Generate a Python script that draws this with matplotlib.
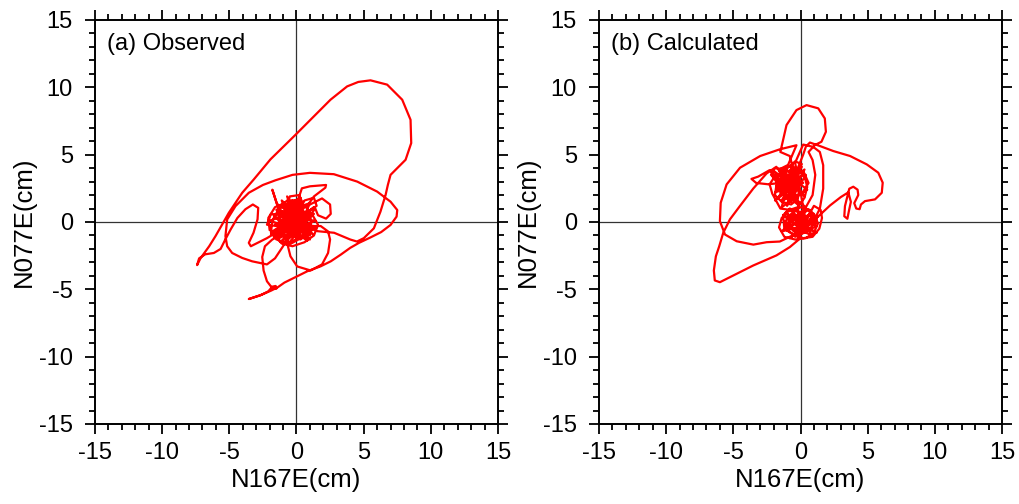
import numpy as np
import matplotlib
matplotlib.use('Agg')
import matplotlib.pyplot as plt
from matplotlib.ticker import MultipleLocator

plt.rcParams['font.family'] = ['Liberation Sans', 'DejaVu Sans']
plt.rcParams['axes.unicode_minus'] = False

# ---- (a) Observed: hodogram (cm) ----
obs_core = [(0.2, 0.1), (-0.4, 0.7), (-1.1, 0.8), (-1.4, 0.2), (-0.9, -0.5), (0.0, -0.6),
            (0.6, -0.1), (0.5, 0.8), (-0.2, 1.3), (-0.8, 1.0), (-1.0, 0.2), (-0.5, -0.9),
            (0.3, -1.3), (0.9, -0.8), (1.1, 0.1), (0.8, 1.0), (0.1, 1.6), (-0.7, 1.6),
            (-1.3, 1.0), (-1.8, 0.1), (-1.9, -0.8), (-1.3, -1.4), (-0.4, -1.6), (0.5, -1.1),
            (0.8, -0.3), (0.3, 0.5), (-0.5, 0.4), (-0.9, -0.3), (-0.4, -0.9), (0.4, -0.5),
            (0.6, 0.4), (0.0, 1.0), (-0.9, 1.4), (-1.6, 1.1), (-2.1, 0.3), (-2.0, -0.6),
            (-1.4, -0.9), (-0.7, -0.4), (-0.3, 0.3), (0.4, 0.6), (1.2, 0.5), (1.6, -0.2),
            (1.3, -1.0), (0.6, -1.5), (-0.3, -1.8), (-1.1, -1.6), (-1.5, -1.0), (-1.1, -0.2),
            (-0.3, 0.0), (0.5, 1.3), (0.2, 2.0), (-0.5, 1.9), (-0.7, 1.1), (-0.2, 0.5),
            (0.8, 0.7), (1.5, 1.2), (1.3, 1.8), (0.6, 1.6), (0.1, 0.8), (-0.6, -0.1),
            (-1.5, -0.3), (-2.2, -0.2), (-1.9, 0.6), (-1.0, 0.5), (-0.5, 0.2)]
obs_jitter = [(0.2, 0.1), (-1.0, 0.7), (0.6, -0.5), (-0.6, 1.3), (0.4, -1.2), (-1.6, -0.2),
              (0.9, 0.8), (-0.3, -0.8), (-1.1, 1.6), (0.1, 0.5), (-1.8, -0.7), (0.9, -0.1),
              (-0.8, -1.4), (0.5, 1.5), (-1.4, 0.3), (1.2, -0.9), (-0.2, 1.1), (-1.7, -1.1),
              (0.8, 0.4), (-0.5, -0.3), (1.3, 1.1), (-1.0, -0.9), (0.3, 1.8), (-1.5, 0.9),
              (1.0, -1.3), (-0.4, 0.6), (-2.0, 0.1), (0.6, -0.8), (-0.9, 1.1), (1.3, 0.6),
              (-1.2, -1.5), (0.0, -0.2), (-0.7, 1.9), (0.8, -1.4), (-1.7, 0.5), (1.0, 1.4),
              (-0.1, -1.1), (-1.4, 1.3), (0.7, 0.0), (-0.6, -1.6), (1.5, -0.4), (-1.2, 0.0),
              (0.4, 0.9), (-1.9, -0.9), (0.2, -0.6), (-0.3, 1.6), (1.0, -1.0), (-1.0, 0.4),
              (0.6, 1.1), (-1.5, -1.3), (1.4, 0.1), (-0.5, 0.2)]
obs_spike = [(-1.2, 0.6), (-1.8, 2.4), (-1.45, 1.3), (-0.5, 0.9), (0.1, 1.6), (0.4, 2.5),
             (1.0, 2.65), (2.2, 2.75), (2.15, 2.55), (1.3, 1.9), (0.8, 1.2), (1.2, 1.4),
             (1.9, 1.75), (2.5, 1.3), (2.55, 0.6), (2.2, 0.25), (1.6, 0.5), (1.4, 1.0),
             (1.0, 0.5), (0.6, -0.2)]
obs_circle = [(1.3, -0.3), (1.8, -0.3), (2.35, -0.7), (2.5, -1.3), (2.35, -2.3), (1.9, -3.15),
              (1.05, -3.6), (0.05, -3.3), (-0.45, -2.55), (-0.7, -1.55), (-0.5, -0.8)]
obs_ellipse = [(-1.0, -1.8), (-1.6, -2.7), (-2.2, -3.15), (-3.3, -2.92), (-4.04, -2.67),
               (-4.79, -2.3), (-5.16, -1.8), (-5.29, -1.05), (-5.16, 0.19), (-4.54, 1.18),
               (-3.55, 2.17), (-2.5, 2.75), (-1.56, 3.1), (-0.3, 3.5), (1.0, 3.65), (2.78, 3.55),
               (4.52, 3.0), (6.0, 2.26), (7.0, 1.51), (7.5, 0.89), (7.45, 0.4), (7.0, -0.22),
               (6.3, -0.75), (5.5, -1.15), (4.65, -1.55)]
obs_wedge = [(4.0, -1.92), (3.3, -2.42), (2.55, -2.92), (1.8, -3.29), (0.8, -3.66), (0.05, -4.03),
             (-0.9, -4.5), (-1.4, -4.85), (-1.9, -5.1), (-2.6, -5.4), (-3.2, -5.6), (-3.55, -5.72),
             (-2.7, -5.45), (-2.1, -5.15), (-1.8, -4.8), (-1.55, -4.75), (-1.5, -4.95),
             (-1.85, -4.85), (-2.2, -4.4), (-2.45, -3.6), (-2.55, -2.6), (-2.35, -1.8),
             (-1.8, -1.3), (-1.0, -0.9)]
obs_hook = [(-0.3, 0.4), (-1.2, -0.6), (-2.2, -1.2), (-2.9, -1.55), (-3.4, -1.8), (-3.55, -1.55),
            (-3.2, -0.8), (-2.9, 0.2), (-2.85, 1.05), (-3.25, 1.3), (-3.8, 0.95), (-4.4, 0.3),
            (-4.9, -0.55), (-5.3, -1.3), (-5.65, -2.0), (-6.15, -2.3), (-6.8, -2.4),
            (-7.25, -2.7), (-7.4, -3.2)]
obs_big = [(-7.15, -2.7), (-6.5, -1.8), (-6.03, -1.05), (-5.04, 0.68), (-4.04, 2.17),
           (-3.18, 3.16), (-1.94, 4.65), (-0.07, 6.48), (1.29, 7.84), (2.53, 9.08),
           (3.77, 10.07), (4.6, 10.4), (5.51, 10.52), (6.75, 10.2), (7.87, 9.08), (8.49, 7.59),
           (8.54, 5.86), (8.12, 4.62), (7.74, 4.24), (7.0, 3.5), (6.8, 2.75), (6.63, 2.0),
           (6.25, 0.77), (5.76, -0.47), (5.01, -1.2), (4.5, -1.45), (4.0, -1.3), (2.8, -0.8),
           (1.55, -0.68), (0.8, -0.3), (0.2, 0.3)]

# ---- (b) Calculated ----
calc_lower = [(0.0, 0.2), (-0.6, 0.5), (-1.1, 0.1), (-1.0, -0.6), (-0.4, -1.0), (0.3, -0.8),
              (0.6, -0.2), (0.3, 0.5), (-0.3, 0.9), (-0.9, 0.8), (-1.4, 0.3), (-1.6, -0.4),
              (-1.2, -1.1), (-0.4, -1.3), (0.4, -1.2), (1.0, -0.8), (1.3, -0.1), (1.0, 0.6),
              (0.4, 1.0), (-0.2, 0.6), (-0.3, -0.2), (0.2, -0.6), (0.8, -0.4), (1.1, 0.3),
              (0.7, 0.9), (0.0, 1.1), (-0.7, 0.6), (-0.9, -0.2), (-0.5, -0.7), (0.1, -0.3),
              (0.5, 0.3), (1.0, 1.2), (1.5, 0.9), (1.6, 0.3), (1.4, -0.5), (0.9, -1.1),
              (0.2, -1.2), (-0.6, -0.9), (-1.2, -0.5), (-1.3, 0.5), (-0.8, 1.0), (-0.1, 0.7),
              (0.3, 0.0), (1.1, -0.1)]
calc_lower_jitter = [(0.0, 0.2), (-1.0, -0.5), (0.7, 0.6), (-0.4, -1.1), (1.2, -0.3),
                     (-1.3, 0.5), (0.4, -0.8), (-0.6, 0.8), (0.9, -1.0), (-1.1, -0.2),
                     (0.2, 0.8), (-0.3, -0.5), (1.3, 0.4), (-0.8, -1.2), (0.6, -0.2),
                     (-1.4, -0.7), (0.3, 0.9), (-0.6, 0.1), (1.0, 0.6), (-0.2, -0.9),
                     (0.8, -0.6), (-1.1, 0.7), (0.1, -0.3), (1.2, -0.8), (-0.7, 0.4),
                     (0.5, 0.3), (-0.1, -1.2), (-0.9, 0.0), (0.6, 0.9), (1.1, -0.1)]
calc_lobe = [(1.2, 0.3), (2.2, 1.23), (3.0, 1.85), (3.56, 2.2), (3.75, 1.5), (3.6, 0.8),
             (3.49, 0.24), (3.26, 0.43), (3.31, 1.18), (3.49, 1.92), (3.63, 2.47), (3.93, 2.62),
             (4.25, 2.4), (4.3, 2.0), (4.0, 1.4), (4.15, 1.0), (4.4, 0.95), (4.5, 1.3),
             (4.8, 1.55), (5.55, 1.68), (6.05, 2.17), (6.12, 2.92), (5.79, 3.66), (4.93, 4.28),
             (3.69, 4.9), (2.44, 5.27), (1.45, 5.64), (0.7, 5.9), (0.4, 5.6), (0.2, 5.0)]
calc_upper = [(-0.8, 2.5), (-1.3, 3.0), (-1.8, 2.7), (-1.9, 2.0), (-1.4, 1.5), (-0.7, 1.3),
              (-0.2, 1.7), (-0.1, 2.5), (-0.5, 3.2), (-1.2, 3.6), (-1.9, 3.4), (-2.3, 2.8),
              (-2.1, 2.1), (-1.5, 1.0), (-0.8, 0.9), (-0.2, 1.1), (0.3, 1.8), (0.5, 2.6),
              (0.3, 3.4), (-0.3, 4.0), (-1.0, 4.2), (-1.6, 3.9), (-1.4, 3.2), (-0.8, 2.9),
              (-0.4, 2.2), (-0.9, 1.7), (-1.5, 2.2), (-1.2, 2.9), (-0.5, 3.6), (0.1, 4.3),
              (-0.4, 4.5), (-1.1, 3.9), (-1.9, 4.0), (-2.2, 3.5), (-1.7, 3.1), (-1.0, 2.4),
              (-0.6, 1.8), (0.1, 2.1), (0.6, 2.9), (0.2, 3.8), (-0.6, 3.4), (-1.3, 2.5),
              (-1.0, 1.9), (-0.3, 3.1)]
calc_upper_jitter = [(-0.8, 2.5), (-1.5, 3.5), (-0.3, 1.5), (-1.2, 4.0), (0.2, 2.9),
                     (-1.9, 2.2), (-0.5, 3.8), (-1.0, 1.2), (0.4, 3.5), (-1.7, 3.0),
                     (-0.3, 2.0), (-1.4, 1.6), (0.1, 4.1), (-2.1, 3.4), (-0.7, 1.5),
                     (-1.1, 3.2), (0.3, 1.9), (-1.6, 3.9), (-0.4, 2.7), (-1.9, 1.6),
                     (0.0, 3.3), (-1.2, 2.3), (-0.6, 4.3), (-1.4, 1.1), (0.5, 2.4),
                     (-0.9, 3.5), (-1.8, 2.7), (-0.1, 1.2), (-1.3, 3.8), (0.0, 2.3),
                     (-2.0, 3.8), (-0.7, 2.0), (0.3, 3.9), (-1.0, 2.9), (-1.6, 1.9), (-0.3, 3.1)]
calc_top = [(-0.8, 4.9), (-1.5, 5.2), (-1.04, 7.2), (-0.3, 8.31), (0.45, 8.68), (1.32, 8.44),
            (1.81, 7.69), (1.89, 6.7), (1.56, 5.96), (1.07, 5.71), (0.6, 5.2), (0.9, 4.6),
            (1.1, 3.5), (0.9, 2.0), (0.4, 1.1), (-0.5, 1.8), (-2.3, 3.85), (-3.15, 3.37),
            (-3.65, 3.2), (-3.3, 2.9), (-2.4, 2.8), (-1.5, 2.9), (-0.3, 5.7)]
calc_ellipse = [(-1.53, 5.4), (-3.0, 4.9), (-4.5, 4.03), (-5.5, 2.79), (-5.94, 1.43),
                (-6.0, 0.06), (-5.62, -0.93), (-4.75, -1.43), (-3.51, -1.68), (-2.52, -1.5),
                (-1.54, -1.45), (-0.05, -0.74), (0.94, 0.0), (1.44, 0.99), (1.69, 2.48),
                (1.69, 4.22), (1.44, 5.2), (0.94, 5.58), (0.2, 5.75), (-0.4, 4.4), (0.3, 0.6),
                (-0.4, -0.9)]
calc_tail = [(-0.05, -1.24), (-0.79, -1.86), (-1.79, -2.48), (-3.52, -3.23), (-5.01, -3.97),
             (-6.0, -4.47), (-6.38, -4.34), (-6.45, -3.6), (-6.3, -2.55), (-6.05, -1.8),
             (-5.75, -0.8), (-5.25, 0.2), (-4.5, 1.2), (-3.52, 2.48), (-2.53, 3.6), (-1.8, 4.1),
             (-1.0, 3.0)]

obs_path = (obs_core + obs_jitter + obs_spike + obs_circle + obs_ellipse + obs_wedge
            + obs_hook + obs_big)
calc_path = (calc_lower + calc_lower_jitter + calc_lobe + calc_upper + calc_upper_jitter
             + calc_top + calc_ellipse + calc_tail)

panels = [(obs_path, '(a) Observed'), (calc_path, '(b) Calculated')]

fig = plt.figure(figsize=(10.2, 5.04), dpi=100)
lefts = [95 / 1020, 599 / 1020]

for (path, title), left in zip(panels, lefts):
    ax = fig.add_axes([left, 80 / 504, 403 / 1020, 404 / 504])
    xs, ys = zip(*path)
    ax.axhline(0, color='#333333', lw=0.9, zorder=1)
    ax.axvline(0, color='#333333', lw=0.9, zorder=1)
    ax.plot(xs, ys, color='red', lw=1.6, solid_joinstyle='round', zorder=2)
    ax.set_xlim(-15, 15)
    ax.set_ylim(-15, 15)
    ax.xaxis.set_major_locator(MultipleLocator(5))
    ax.yaxis.set_major_locator(MultipleLocator(5))
    ax.xaxis.set_minor_locator(MultipleLocator(1))
    ax.yaxis.set_minor_locator(MultipleLocator(1))
    ax.tick_params(which='both', direction='out', top=True, right=True, width=1.3)
    ax.tick_params(which='major', length=7, labelsize=17)
    ax.tick_params(which='minor', length=4)
    ax.tick_params(axis='x', pad=6)
    ax.tick_params(axis='y', pad=9)
    for sp in ax.spines.values():
        sp.set_linewidth(1.4)
    ax.set_xlabel('N167E(cm)', fontsize=18.5, labelpad=3)
    ax.set_ylabel('N077E(cm)', fontsize=18.5, labelpad=2)
    ax.text(0.03, 0.94, title, transform=ax.transAxes, fontsize=17, va='center', ha='left')

fig.savefig('out.png', dpi=100)
